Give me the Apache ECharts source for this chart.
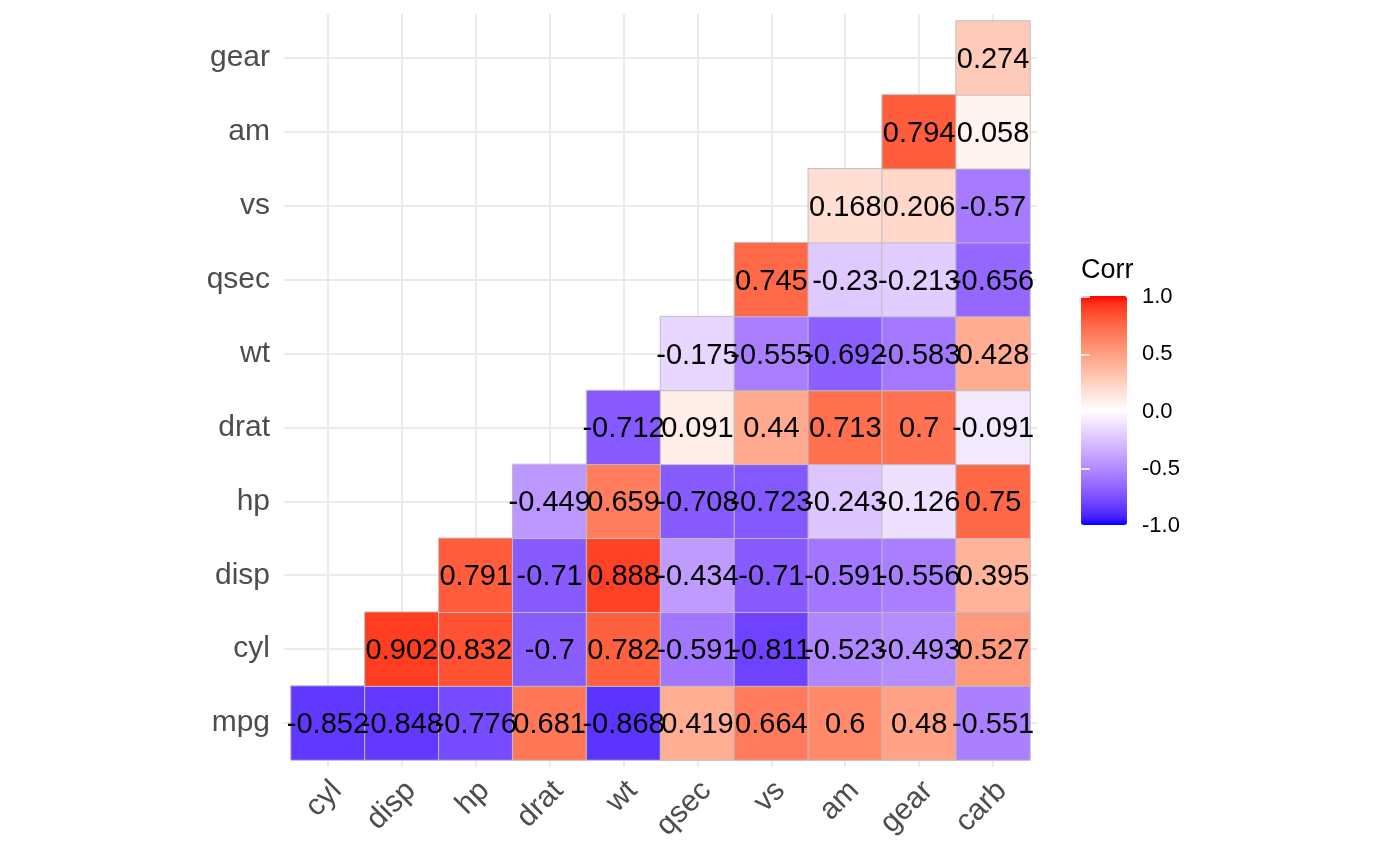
<!DOCTYPE html>
<html>
<head>
<meta charset="utf-8">
<title>mtcars correlation</title>
<script src="https://cdn.jsdelivr.net/npm/echarts@6/dist/echarts.min.js"></script>
<style>
  html, body { margin: 0; padding: 0; background: #fff; }
  #J_Chart { width: 1400px; height: 866px; }
</style>
</head>
<body>
<div id="J_Chart"></div>
<script>
'use strict';

// variables, x axis drops the first, y axis drops the last
const xNames = ['cyl', 'disp', 'hp', 'drat', 'wt', 'qsec', 'vs', 'am', 'gear', 'carb'];
const yNames = ['mpg', 'cyl', 'disp', 'hp', 'drat', 'wt', 'qsec', 'vs', 'am', 'gear'];

// one row per y variable, values start at the column right after it
const rowMpg = [-0.852, -0.848, -0.776, 0.681, -0.868, 0.419, 0.664, 0.6, 0.48, -0.551];
const rowCyl = [0.902, 0.832, -0.7, 0.782, -0.591, -0.811, -0.523, -0.493, 0.527];
const rowDisp = [0.791, -0.71, 0.888, -0.434, -0.71, -0.591, -0.556, 0.395];
const rowHp = [-0.449, 0.659, -0.708, -0.723, -0.243, -0.126, 0.75];
const rowDrat = [-0.712, 0.091, 0.44, 0.713, 0.7, -0.091];
const rowWt = [-0.175, -0.555, -0.692, -0.583, 0.428];
const rowQsec = [0.745, -0.23, -0.213, -0.656];
const rowVs = [0.168, 0.206, -0.57];
const rowAm = [0.794, 0.058];
const rowGear = [0.274];

const legendTicks = [-1, -0.5, 0, 0.5, 1];

const rows = [rowMpg, rowCyl, rowDisp, rowHp, rowDrat, rowWt, rowQsec, rowVs, rowAm, rowGear];
const heatData = [];
rows.forEach((row, j) => {
  row.forEach((v, k) => {
    heatData.push([j + k, j, v]);
  });
});

// ggplot style blue-white-red gradient, mixed in Lab space
function toLinear(c) {
  c = c / 255;
  return c <= 0.04045 ? c / 12.92 : Math.pow((c + 0.055) / 1.055, 2.4);
}
function toSrgb(c) {
  c = c <= 0.0031308 ? 12.92 * c : 1.055 * Math.pow(c, 1 / 2.4) - 0.055;
  return Math.round(Math.min(1, Math.max(0, c)) * 255);
}
function rgbToLab(rgb) {
  const [r, g, b] = rgb.map(toLinear);
  const x = (0.4124564 * r + 0.3575761 * g + 0.1804375 * b) / 0.95047;
  const y = 0.2126729 * r + 0.7151522 * g + 0.072175 * b;
  const z = (0.0193339 * r + 0.119192 * g + 0.9503041 * b) / 1.08883;
  const f = (t) => (t > 0.008856 ? Math.cbrt(t) : 7.787 * t + 16 / 116);
  return [116 * f(y) - 16, 500 * (f(x) - f(y)), 200 * (f(y) - f(z))];
}
function labToRgb(lab) {
  const fy = (lab[0] + 16) / 116;
  const fx = fy + lab[1] / 500;
  const fz = fy - lab[2] / 200;
  const inv = (t) => (t * t * t > 0.008856 ? t * t * t : (t - 16 / 116) / 7.787);
  const x = inv(fx) * 0.95047, y = inv(fy), z = inv(fz) * 1.08883;
  const r = 3.2404542 * x - 1.5371385 * y - 0.4985314 * z;
  const g = -0.969266 * x + 1.8760108 * y + 0.041556 * z;
  const b = 0.0556434 * x - 0.2040259 * y + 1.0572252 * z;
  return 'rgb(' + toSrgb(r) + ',' + toSrgb(g) + ',' + toSrgb(b) + ')';
}
const labLow = rgbToLab([0, 0, 255]);
const labMid = rgbToLab([255, 255, 255]);
const labHigh = rgbToLab([255, 0, 0]);
const palette = [];
for (let i = 0; i <= 40; i++) {
  const v = -1 + i * 0.05;
  const end = v < 0 ? labLow : labHigh;
  const t = Math.abs(v);
  palette.push(labToRgb(labMid.map((m, n) => m + t * (end[n] - m))));
}

const FONT = "'Liberation Sans', Arial, Helvetica, sans-serif";
const cellLeft = 291, cellTop = 21, cellSize = 739;
const gridColor = '#EBEBEB';
const axisTextColor = '#4D4D4D';

const hidden = { show: false };

const option = {
  animation: false,
  backgroundColor: '#fff',
  textStyle: { fontFamily: FONT },
  title: {
    text: 'Corr',
    left: 1081,
    top: 257,
    padding: 0,
    textStyle: { fontFamily: FONT, fontSize: 27, fontWeight: 'normal', color: '#000' },
  },
  grid: [
    // cells
    { left: cellLeft, top: cellTop, width: cellSize, height: cellSize },
    // x labels, shifted like ggplot's rotated justification
    { left: cellLeft + 9, top: cellTop, width: cellSize, height: cellSize },
    // panel grid lines
    { left: 284, top: 14, width: 753, height: 753 },
    // colourbar ticks and labels
    { left: 1081, top: 297, width: 46, height: 229 },
  ],
  xAxis: [
    {
      gridIndex: 0, type: 'category', data: xNames,
      axisLine: hidden, axisTick: hidden, axisLabel: hidden, splitLine: hidden,
    },
    {
      gridIndex: 1, type: 'category', data: xNames,
      axisLine: hidden, axisTick: hidden, splitLine: hidden,
      axisLabel: {
        interval: 0, rotate: 45, margin: 26,
        fontSize: 30, color: axisTextColor, fontFamily: FONT,
      },
    },
    {
      gridIndex: 2, type: 'value', min: -0.595, max: 9.595, minInterval: 1, maxInterval: 1,
      axisLine: hidden, axisTick: hidden, axisLabel: hidden,
      splitLine: { show: true, showMinLine: false, showMaxLine: false, lineStyle: { color: gridColor, width: 2 } },
    },
    { gridIndex: 3, type: 'value', min: 0, max: 1, show: false },
  ],
  yAxis: [
    {
      gridIndex: 0, type: 'category', data: yNames,
      axisLine: hidden, axisTick: hidden, splitLine: hidden,
      axisLabel: {
        margin: 21, fontSize: 30, color: axisTextColor, fontFamily: FONT,
        padding: [4, 0, 0, 0],
      },
    },
    { gridIndex: 1, type: 'value', show: false },
    {
      gridIndex: 2, type: 'value', min: -0.595, max: 9.595, minInterval: 1, maxInterval: 1,
      axisLine: hidden, axisTick: hidden, axisLabel: hidden,
      splitLine: { show: true, showMinLine: false, showMaxLine: false, lineStyle: { color: gridColor, width: 2 } },
    },
    {
      gridIndex: 3, type: 'value', position: 'right', min: -1, max: 1, interval: 0.5, z: 10,
      axisLine: hidden, splitLine: hidden,
      axisTick: { show: true, inside: true, length: 9, lineStyle: { color: '#fff', width: 1.5 } },
      axisLabel: {
        margin: 15, fontSize: 22, color: '#000', fontFamily: FONT,
        formatter: (v) => legendTicks.indexOf(v) >= 0 ? v.toFixed(1) : '',
      },
    },
    {
      gridIndex: 3, type: 'value', position: 'left', min: -1, max: 1, interval: 0.5, z: 10,
      axisLine: hidden, splitLine: hidden, axisLabel: hidden,
      axisTick: { show: true, inside: true, length: 9, lineStyle: { color: '#fff', width: 1.5 } },
    },
  ],
  visualMap: {
    type: 'continuous',
    seriesIndex: 0,
    min: -1,
    max: 1,
    calculable: false,
    left: 1066,
    top: 281,
    itemWidth: 46,
    itemHeight: 229,
    text: null,
    inRange: { color: palette },
  },
  series: [
    {
      type: 'heatmap',
      xAxisIndex: 0,
      yAxisIndex: 0,
      data: heatData,
      itemStyle: { borderColor: '#BEBEBE', borderWidth: 1 },
      label: {
        show: true,
        formatter: (p) => String(p.value[2]),
        fontSize: 29,
        offset: [0, 2],
        color: '#000',
        fontFamily: FONT,
      },
      emphasis: { disabled: true },
    },
  ],
};

const myChart = echarts.init(document.getElementById('J_Chart'));
myChart.setOption(option);
</script>
</body>
</html>
